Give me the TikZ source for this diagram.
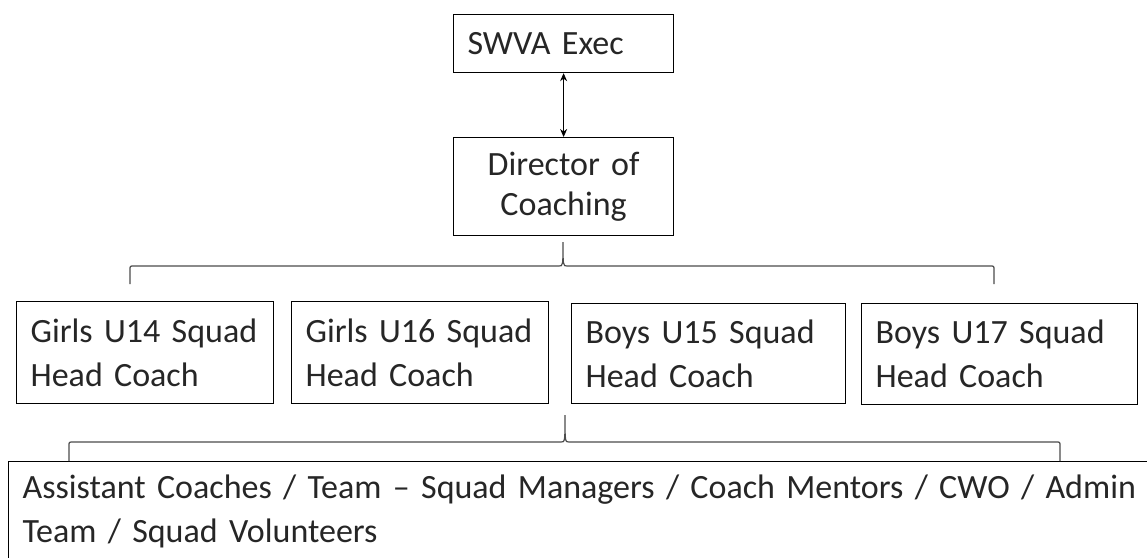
\documentclass[tikz,border=0pt]{standalone}
\usepackage{fontspec}
\setmainfont{Carlito}
\usetikzlibrary{arrows.meta}

\begin{document}
\begin{tikzpicture}[x=1pt, y=-1pt,
    orgbox/.style={draw=black, line width=1.2pt, inner sep=0pt, inner xsep=14pt,
      anchor=north west, align=left, text=black!85},
    topfont/.style={font=\fontsize{34}{40}\selectfont},
    squadfont/.style={font=\fontsize{34}{44}\selectfont},
    bracket/.style={draw=black!70, line width=1.2pt}]
    \useasboundingbox (0,0) rectangle (1147,557);
    \clip (0,0) rectangle (1147,557);
    % top of the tree
    \node[orgbox, topfont, minimum width=220pt, minimum height=58pt, text width=192pt] (exec) at (453,14) {SWVA Exec};
    \node[orgbox, topfont, align=center, minimum width=220pt, minimum height=98pt, text width=192pt] (dir) at (453,137) {Director of\\Coaching};
    \draw[<->, >={Stealth[length=8pt, width=7pt]}, line width=0.8pt] (exec.south) -- (dir.north);
    % squads
    \node[orgbox, squadfont, minimum width=257pt, minimum height=102pt, text width=229pt] (gu14) at (16,301) {\mbox{Girls U14 Squad}\\Head Coach};
    \node[orgbox, squadfont, minimum width=257pt, minimum height=102pt, text width=229pt] (gu16) at (291,301) {\mbox{Girls U16 Squad}\\Head Coach};
    \node[orgbox, squadfont, minimum width=274pt, minimum height=100pt, text width=246pt] (bu15) at (571,303) {\mbox{Boys U15 Squad}\\Head Coach};
    \node[orgbox, squadfont, minimum width=276pt, minimum height=101pt, text width=248pt] (bu17) at (861,303) {\mbox{Boys U17 Squad}\\Head Coach};
    % everyone else
    \node[orgbox, squadfont, minimum width=1200pt, minimum height=100pt, text width=1172pt] (staff) at (8,461) {\mbox{Assistant Coaches / Team -- Squad Managers / Coach Mentors / CWO / Admin}\\Team / Squad Volunteers};
    % brackets
    \coordinate (dirtip) at (563,242);
    \coordinate (squadtip) at (565,415);
    \draw[bracket] (130,284) -- (130,270) .. controls (130,266) .. (134,266) -- (559,266)
      .. controls (563,266) .. (dirtip) .. controls (563,266) .. (567,266) -- (990,266)
      .. controls (994,266) .. (994,270) -- (994,284);
    \draw[bracket] (69,461) -- (69,446) .. controls (69,442) .. (73,442) -- (561,442)
      .. controls (565,442) .. (squadtip) .. controls (565,442) .. (569,442) -- (1056,442)
      .. controls (1060,442) .. (1060,446) -- (1060,461);
\end{tikzpicture}
\end{document}
